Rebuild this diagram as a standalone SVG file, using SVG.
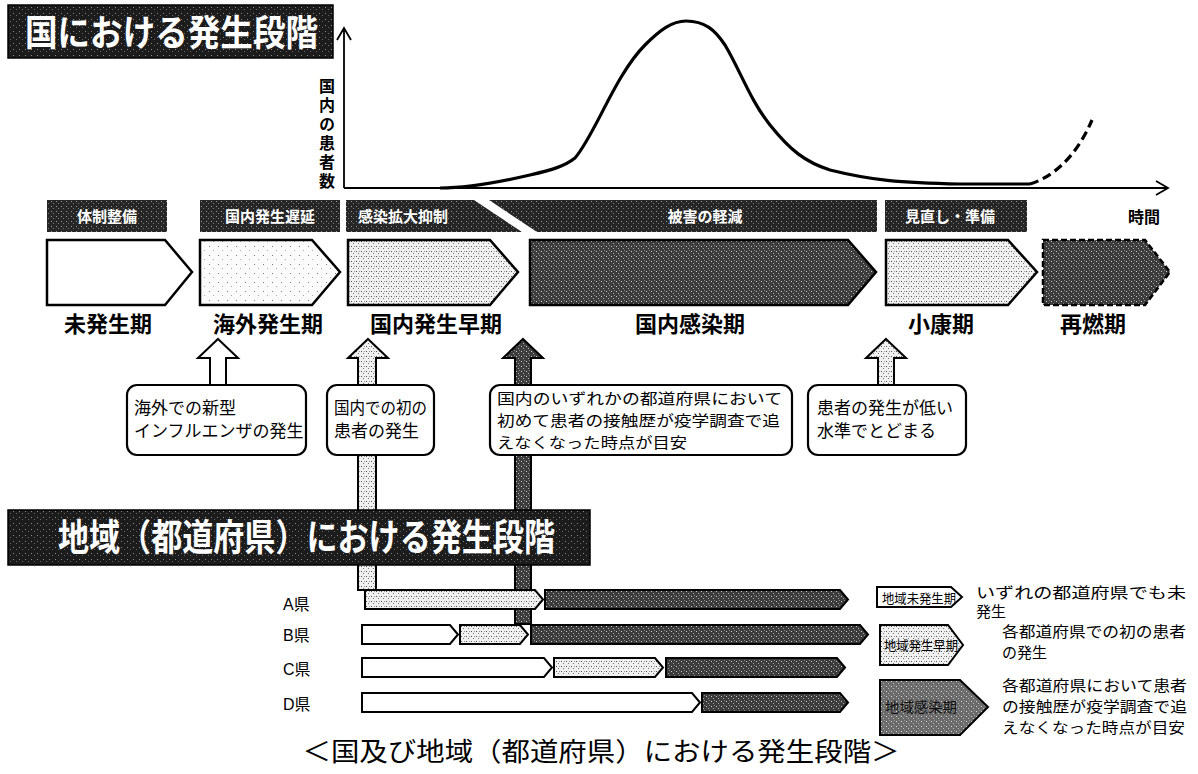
<svg xmlns="http://www.w3.org/2000/svg" width="1198" height="774" viewBox="0 0 1198 774">
<style>
.jp{font-family:"Noto Sans CJK JP","Noto Sans CJK SC",sans-serif}
.ttl{font-family:"Noto Sans CJK JP",sans-serif;font-weight:bold;fill:#fff}
.band{font-family:"Noto Sans CJK JP",sans-serif;font-weight:bold;font-size:15px;fill:#fff}
.lbl{font-family:"Noto Sans CJK JP",sans-serif;font-weight:bold;font-size:22px;fill:#000;text-anchor:middle}
.co{font-family:"Noto Sans CJK JP",sans-serif;font-size:17px;fill:#000}
.co3{font-family:"Noto Sans CJK JP",sans-serif;font-size:15px;fill:#000}
.lg{font-family:"Noto Sans CJK JP",sans-serif;font-size:15px;fill:#000}
.row{font-family:"Liberation Sans","Noto Sans CJK JP",sans-serif;font-size:16px;fill:#000}
.chev{stroke:#000;stroke-width:2.5;stroke-linejoin:miter}
.bar{stroke:#000;stroke-width:2}
.box{fill:#fff;stroke:#000;stroke-width:2.2}
.axis{fill:none;stroke:#000;stroke-width:1.8}
</style>
<defs>
<pattern id="pTitle" width="6" height="6" patternUnits="userSpaceOnUse"><rect width="6" height="6" fill="#1c1c1c"/><rect x="1" y="1" width="1" height="1" fill="#888"/><rect x="4" y="3" width="1" height="1" fill="#666"/></pattern>
<pattern id="pBand" width="5" height="5" patternUnits="userSpaceOnUse"><rect width="5" height="5" fill="#262626"/><rect x="1" y="1" width="1" height="1" fill="#999"/><rect x="3" y="3" width="1" height="1" fill="#777"/></pattern>
<pattern id="pDark" width="5" height="5" patternUnits="userSpaceOnUse"><rect width="5" height="5" fill="#3c3c3c"/><rect x="1" y="1" width="1" height="1" fill="#ccc"/><rect x="3" y="3" width="1" height="1" fill="#aaa"/><rect x="4" y="0" width="1" height="1" fill="#888"/></pattern>
<pattern id="pMid" width="5" height="5" patternUnits="userSpaceOnUse"><rect width="5" height="5" fill="#f0f0f0"/><rect x="1" y="1" width="1" height="1" fill="#555"/><rect x="3" y="3" width="1" height="1" fill="#777"/><rect x="4" y="1" width="1" height="1" fill="#999"/></pattern>
<pattern id="pLight" width="9" height="9" patternUnits="userSpaceOnUse"><rect width="9" height="9" fill="#fbfbfb"/><rect x="2" y="3" width="1" height="1" fill="#777"/><rect x="6" y="7" width="1" height="1" fill="#aaa"/></pattern>
<pattern id="pLeg" width="5" height="5" patternUnits="userSpaceOnUse"><rect width="5" height="5" fill="#6a6a6a"/><rect x="1" y="1" width="1" height="1" fill="#ddd"/><rect x="3" y="3" width="1" height="1" fill="#bbb"/><rect x="4" y="0" width="1" height="1" fill="#999"/></pattern>
</defs>

<g id="title-national">
<rect x="8" y="5" width="325" height="53" fill="url(#pTitle)" stroke="#000" stroke-width="1.5"/>
<text class="ttl" x="25" y="46" font-size="36" textLength="293" lengthAdjust="spacingAndGlyphs">国における発生段階</text>
</g>

<g id="chart">
<path class="axis" d="M344,188 V28 M337,40 L344,28 L351,40"/>
<path class="axis" d="M344,188 H1168 M1156,181 L1168,188 L1156,195"/>
<text class="jp" x="327" y="78" font-weight="bold" font-size="16" letter-spacing="3" style="writing-mode:vertical-rl">国内の患者数</text>
<text class="jp" x="1128" y="223" font-weight="bold" font-size="16">時間</text>
<path d="M440,188 C470,188 500,182 530,175 C552,170 565,166 575,158 C595,135 615,75 645,45 C660,30 672,21 686,21 C705,21 715,30 725,45 C740,70 750,100 770,125 C790,150 805,162 830,170 C870,180 900,183 960,184 L1030,184" fill="none" stroke="#000" stroke-width="3.2"/>
<path d="M1030,184 C1050,178 1075,160 1092,120" fill="none" stroke="#000" stroke-width="3.2" stroke-dasharray="9,5"/>
</g>

<g id="bands">
<rect x="47" y="200" width="120" height="32" fill="url(#pBand)"/>
<text class="band" x="107" y="222" text-anchor="middle">体制整備</text>
<rect x="200" y="200" width="140" height="32" fill="url(#pBand)"/>
<text class="band" x="270" y="222" text-anchor="middle">国内発生遅延</text>
<polygon points="346,200 474,200 522,232 346,232" fill="url(#pBand)"/>
<text class="band" x="358" y="222">感染拡大抑制</text>
<polygon points="489,200 877,200 877,232 537,232" fill="url(#pBand)"/>
<text class="band" x="705" y="222" text-anchor="middle">被害の軽減</text>
<rect x="885" y="200" width="142" height="32" fill="url(#pBand)"/>
<text class="band" x="950" y="222" text-anchor="middle">見直し・準備</text>
</g>

<g id="stage-mihassei">
<polygon class="chev" points="47,240 165,240 192,272 165,305 47,305" fill="#fff"/>
<text class="lbl" x="108" y="332">未発生期</text>
</g>
<g id="stage-kaigai">
<polygon class="chev" points="200,240 312,240 340,272 312,305 200,305" fill="url(#pLight)"/>
<text class="lbl" x="268" y="332">海外発生期</text>
</g>
<g id="stage-kokunai-soki">
<polygon class="chev" points="348,240 490,240 518,272 490,305 348,305" fill="url(#pMid)"/>
<text class="lbl" x="436" y="332">国内発生早期</text>
</g>
<g id="stage-kansen">
<polygon class="chev" points="530,240 848,240 876,272 848,305 530,305" fill="url(#pDark)"/>
<text class="lbl" x="690" y="332">国内感染期</text>
</g>
<g id="stage-shoko">
<polygon class="chev" points="886,240 1008,240 1037,272 1008,305 886,305" fill="url(#pMid)"/>
<text class="lbl" x="941" y="332">小康期</text>
</g>
<g id="stage-sainen">
<polygon class="chev" points="1043,240 1145,240 1170,272 1145,305 1043,305" fill="url(#pDark)" stroke-dasharray="6,3"/>
<text class="lbl" x="1093" y="332">再燃期</text>
</g>

<g id="connectors">
<polygon points="218,339 238,358 226,358 226,386 210,386 210,358 198,358" fill="#fff" stroke="#000" stroke-width="2"/>
<polygon points="368,339 388,358 376,358 376,590 358,590 358,358 348,358" fill="url(#pMid)" stroke="#000" stroke-width="2"/>
<polygon points="523,339 543,358 531,358 531,624 515,624 515,358 503,358" fill="url(#pDark)" stroke="#000" stroke-width="2"/>
<polygon points="886,339 906,358 894,358 894,386 878,386 878,358 866,358" fill="url(#pMid)" stroke="#000" stroke-width="2"/>
</g>

<g id="callout-1">
<rect class="box" x="127" y="385" width="179" height="70" rx="10"/>
<text class="co" x="134" y="414">海外での新型</text>
<text class="co" x="134" y="437">インフルエンザの発生</text>
</g>
<g id="callout-2">
<rect class="box" x="327" y="385" width="107" height="70" rx="10"/>
<text class="co" x="334" y="414" textLength="93" lengthAdjust="spacingAndGlyphs">国内での初の</text>
<text class="co" x="334" y="437">患者の発生</text>
</g>
<g id="callout-3">
<rect class="box" x="490" y="385" width="302" height="70" rx="10"/>
<text class="co3" x="497" y="404" textLength="285" lengthAdjust="spacingAndGlyphs">国内のいずれかの都道府県において</text>
<text class="co3" x="497" y="426" textLength="283" lengthAdjust="spacingAndGlyphs">初めて患者の接触歴が疫学調査で追</text>
<text class="co3" x="497" y="448" textLength="190" lengthAdjust="spacingAndGlyphs">えなくなった時点が目安</text>
</g>
<g id="callout-4">
<rect class="box" x="808" y="385" width="158" height="70" rx="10"/>
<text class="co" x="817" y="414">患者の発生が低い</text>
<text class="co" x="817" y="437">水準でとどまる</text>
</g>

<g id="title-regional">
<rect x="8" y="510" width="582" height="55" fill="url(#pTitle)" stroke="#000" stroke-width="1.5"/>
<text class="ttl" x="58" y="551" font-size="37" textLength="497" lengthAdjust="spacingAndGlyphs">地域（都道府県）における発生段階</text>
</g>

<g id="pref-A">
<text class="row" x="283" y="610">A県</text>
<polygon class="bar" points="365,590 535,590 543,599.5 535,609 365,609" fill="url(#pMid)"/>
<polygon class="bar" points="545,590 840,590 848,599.5 840,609 545,609" fill="url(#pDark)"/>
</g>
<g id="pref-B">
<text class="row" x="283" y="641">B県</text>
<polygon class="bar" points="362,625 450,625 458,634.5 450,644 362,644" fill="#fff"/>
<polygon class="bar" points="460,625 520,625 528,634.5 520,644 460,644" fill="url(#pMid)"/>
<polygon class="bar" points="531,625 860,625 868,634.5 860,644 531,644" fill="url(#pDark)"/>
</g>
<g id="pref-C">
<text class="row" x="283" y="675">C県</text>
<polygon class="bar" points="362,658 544,658 552,667.5 544,677 362,677" fill="#fff"/>
<polygon class="bar" points="554,658 655,658 663,667.5 655,677 554,677" fill="url(#pMid)"/>
<polygon class="bar" points="666,658 837,658 845,667.5 837,677 666,677" fill="url(#pDark)"/>
</g>
<g id="pref-D">
<text class="row" x="283" y="710">D県</text>
<polygon class="bar" points="362,693 692,693 700,702.5 692,712 362,712" fill="#fff"/>
<polygon class="bar" points="702,693 840,693 848,702.5 840,712 702,712" fill="url(#pDark)"/>
</g>

<g id="legend-mihassei">
<polygon class="bar" points="877,587 951,587 962,597 951,607 877,607" fill="#fff"/>
<text class="jp" x="882" y="603" font-size="13" textLength="74" lengthAdjust="spacingAndGlyphs">地域未発生期</text>
<text class="lg" x="976" y="598" textLength="210" lengthAdjust="spacingAndGlyphs">いずれの都道府県でも未</text>
<text class="lg" x="976" y="617">発生</text>
</g>
<g id="legend-soki">
<polygon class="bar" points="880,625 948,625 963,645 948,665 880,665" fill="url(#pMid)"/>
<text class="jp" x="884" y="650" font-size="13" textLength="74" lengthAdjust="spacingAndGlyphs">地域発生早期</text>
<text class="lg" x="1002" y="637" textLength="184" lengthAdjust="spacingAndGlyphs">各都道府県での初の患者</text>
<text class="lg" x="1002" y="658">の発生</text>
</g>
<g id="legend-kansen">
<polygon class="bar" points="880,680 960,680 988,707 960,735 880,735" fill="url(#pLeg)"/>
<text class="jp" x="885" y="712" font-size="14" fill="#111" textLength="72" lengthAdjust="spacingAndGlyphs">地域感染期</text>
<text class="lg" x="1002" y="691" textLength="185" lengthAdjust="spacingAndGlyphs">各都道府県において患者</text>
<text class="lg" x="1002" y="712" textLength="185" lengthAdjust="spacingAndGlyphs">の接触歴が疫学調査で追</text>
<text class="lg" x="1002" y="733" textLength="183" lengthAdjust="spacingAndGlyphs">えなくなった時点が目安</text>
</g>

<g id="caption">
<text class="jp" x="601" y="761" font-size="26" text-anchor="middle" textLength="597" lengthAdjust="spacingAndGlyphs">＜国及び地域（都道府県）における発生段階＞</text>
</g>
</svg>
